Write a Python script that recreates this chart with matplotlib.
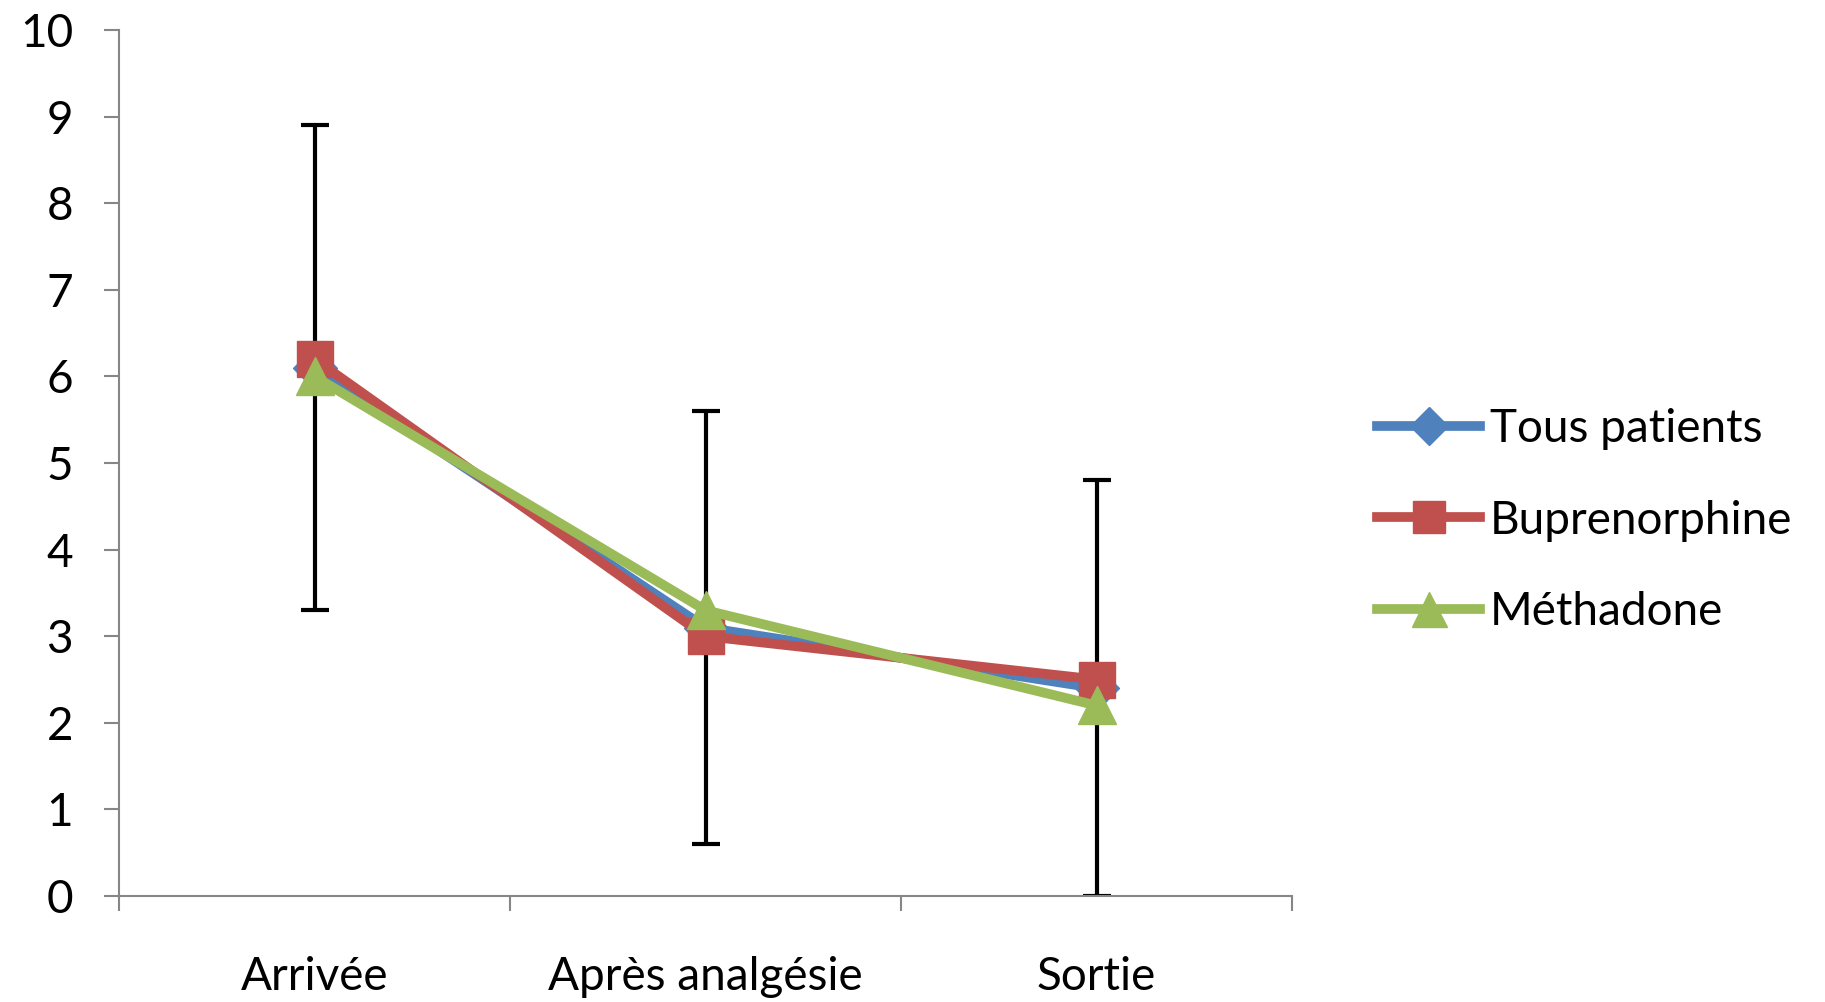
import matplotlib
matplotlib.use("Agg")
import matplotlib.pyplot as plt

plt.rcParams['font.family'] = ['Lato', 'DejaVu Sans']

categories = ["Arrivée", "Après analgésie", "Sortie"]
tous = [6.1, 3.1, 2.4]
bupre = [6.2, 3.0, 2.5]
metha = [6.0, 3.3, 2.2]
# error bars (Tous patients): lower / upper limits
err_low = [3.3, 0.6, 0.0]
err_high = [8.9, 5.6, 4.8]

x = list(range(1, len(categories) + 1))
yerr = [[m - lo for m, lo in zip(tous, err_low)],
        [hi - m for m, hi in zip(tous, err_high)]]

fig = plt.figure(figsize=(18.25, 10.02), dpi=100)
ax = fig.add_axes([0.0652, 0.1058, 0.6428, 0.8642])

ax.errorbar(x, tous, yerr=yerr, fmt='none', ecolor='black', elinewidth=3,
            capsize=10, capthick=3, zorder=1)
ax.plot(x, tous, color='#4F81BD', lw=7, marker='D', ms=22, label='Tous patients', zorder=2)
ax.plot(x, bupre, color='#C0504D', lw=7, marker='s', ms=26, label='Buprenorphine', zorder=3)
ax.plot(x, metha, color='#9BBB59', lw=7, marker='^', ms=28, label='Méthadone', zorder=4)

ax.set_xlim(0.5, len(categories) + 0.5)
ax.set_ylim(0, 10)
ax.set_yticks(range(0, 11))
ax.set_xticks([i + 0.5 for i in range(len(categories) + 1)])
ax.set_xticklabels([])
ax.set_xticks(x, minor=True)
ax.set_xticklabels(categories, minor=True)

for s in ['top', 'right']:
    ax.spines[s].set_visible(False)
for s in ['left', 'bottom']:
    ax.spines[s].set_color('#868686')
    ax.spines[s].set_linewidth(1.5)

ax.tick_params(axis='y', which='major', length=11, width=1.5, color='#868686',
               labelsize=33, pad=22)
ax.tick_params(axis='x', which='major', length=11, width=1.5, color='#868686')
ax.tick_params(axis='x', which='minor', length=0, labelsize=33, pad=43)

fig.legend(loc='center left', bbox_to_anchor=(0.7545, 0.4805), frameon=False,
           fontsize=33, handlelength=2.25, handletextpad=0.22, labelspacing=1.08,
           borderpad=0, borderaxespad=0, markerscale=0.9)

fig.savefig("out.png", dpi=100)
